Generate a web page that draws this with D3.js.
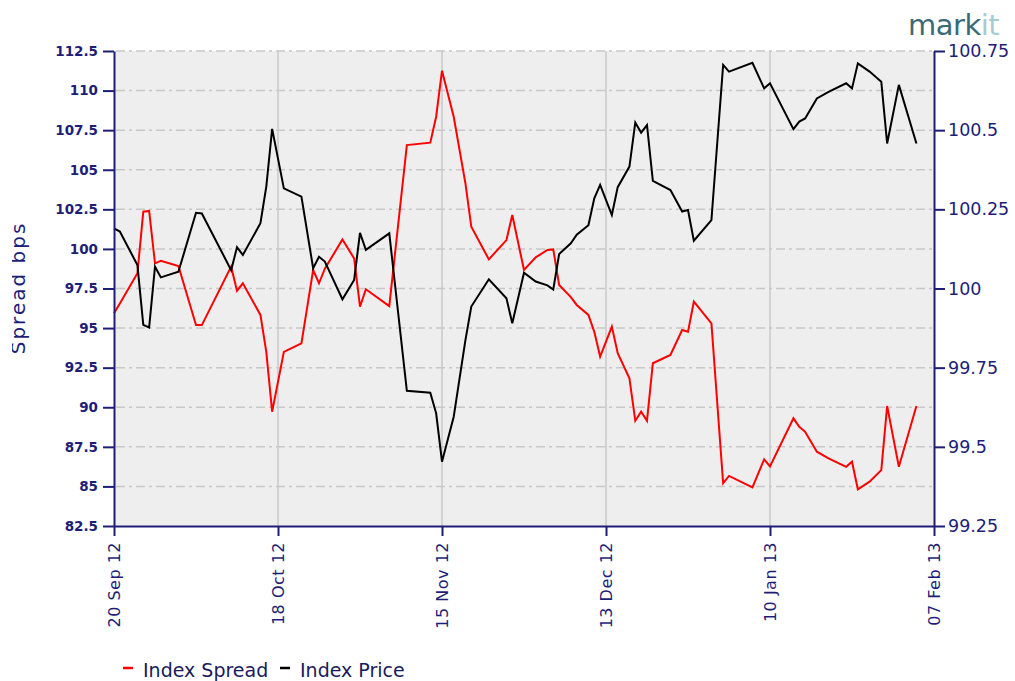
<!DOCTYPE html>
<html>
<head>
<meta charset="utf-8">
<script src="https://cdn.jsdelivr.net/npm/d3@7"></script>
<style>
  body { margin: 0; background: #fff; }
  svg { display: block; font-family: "DejaVu Sans", sans-serif; }
</style>
</head>
<body>
<div id="chart"></div>
<script>
// data
const dates = [
  '2012-09-20', '2012-09-21', '2012-09-24', '2012-09-25', '2012-09-26', '2012-09-27', '2012-09-28',
  '2012-10-01', '2012-10-04', '2012-10-05', '2012-10-10', '2012-10-11', '2012-10-12', '2012-10-15',
  '2012-10-16', '2012-10-17', '2012-10-19', '2012-10-22', '2012-10-24', '2012-10-25', '2012-10-26',
  '2012-10-29', '2012-10-31', '2012-11-01', '2012-11-02', '2012-11-06', '2012-11-09', '2012-11-13',
  '2012-11-14', '2012-11-15', '2012-11-17', '2012-11-19', '2012-11-20', '2012-11-23', '2012-11-26',
  '2012-11-27', '2012-11-29', '2012-12-01', '2012-12-03', '2012-12-04', '2012-12-05', '2012-12-07',
  '2012-12-08', '2012-12-10', '2012-12-11', '2012-12-12', '2012-12-14', '2012-12-15', '2012-12-17',
  '2012-12-18', '2012-12-19', '2012-12-20', '2012-12-21', '2012-12-24', '2012-12-26', '2012-12-27',
  '2012-12-28', '2012-12-31', '2013-01-02', '2013-01-03', '2013-01-07', '2013-01-09', '2013-01-10',
  '2013-01-14', '2013-01-15', '2013-01-16', '2013-01-18', '2013-01-20', '2013-01-23', '2013-01-24',
  '2013-01-25', '2013-01-27', '2013-01-29', '2013-01-30', '2013-02-01', '2013-02-04'
];
const spread = [
  95.93, 96.55, 98.46, 102.35, 102.4, 99.09, 99.25,
  98.92, 95.19, 95.19, 98.88, 97.36, 97.83, 95.83,
  93.5, 89.72, 93.5, 94.04, 98.67, 97.83, 98.75,
  100.6, 99.4, 96.35, 97.45, 96.39, 106.56, 106.71,
  108.35, 111.26, 108.35, 104.14, 101.4, 99.34, 100.56,
  102.14, 98.67, 99.47, 99.93, 99.97, 97.72, 96.96,
  96.46, 95.83, 94.76, 93.2, 95.09, 93.41, 91.83,
  89.15, 89.72, 89.15, 92.78, 93.3, 94.88, 94.77,
  96.67, 95.3, 85.2, 85.66, 84.94, 86.71, 86.26,
  89.3, 88.77, 88.45, 87.19, 86.77, 86.24, 86.56,
  84.82, 85.3, 86.03, 90.08, 86.24, 90.08
];
const price = [
  100.19, 100.18, 100.074, 99.885, 99.877, 100.069, 100.035,
  100.053, 100.239, 100.237, 100.058, 100.13, 100.106, 100.206,
  100.322, 100.504, 100.316, 100.29, 100.064, 100.1, 100.085,
  99.966, 100.027, 100.176, 100.122, 100.174, 99.677, 99.671,
  99.606, 99.453, 99.595, 99.837, 99.943, 100.029, 99.969,
  99.89, 100.05, 100.022, 100.01, 99.997, 100.109, 100.143,
  100.17, 100.2, 100.285, 100.327, 100.232, 100.32, 100.385,
  100.524, 100.492, 100.516, 100.34, 100.311, 100.243, 100.248,
  100.151, 100.216, 100.706, 100.685, 100.713, 100.632, 100.648,
  100.503, 100.527, 100.537, 100.6, 100.621, 100.648, 100.632,
  100.711, 100.685, 100.653, 100.458, 100.643, 100.458
];
const xTickDates = ['2012-09-20', '2012-10-18', '2012-11-15', '2012-12-13', '2013-01-10', '2013-02-07'];
const spreadTicks = [82.5, 85, 87.5, 90, 92.5, 95, 97.5, 100, 102.5, 105, 107.5, 110, 112.5];
const priceTicks = [99.25, 99.5, 99.75, 100, 100.25, 100.5, 100.75];

const parse = d3.timeParse('%Y-%m-%d');
const navy = '#1e1e78';
const width = 1015;
const height = 681;
const margin = { top: 51, right: 81, bottom: 155, left: 114 };
const plotW = width - margin.left - margin.right;
const plotH = height - margin.top - margin.bottom;

const svg = d3.select('#chart').append('svg')
  .attr('width', width)
  .attr('height', height);

// scales
const x = d3.scaleTime()
  .domain([parse(xTickDates[0]), parse(xTickDates[xTickDates.length - 1])])
  .range([0, plotW]);
const ySpread = d3.scaleLinear().domain([82.5, 112.5]).range([plotH, 0]);
const yPrice = d3.scaleLinear().domain([99.25, 100.75]).range([plotH, 0]);

const g = svg.append('g').attr('transform', `translate(${margin.left},${margin.top})`);

// plot background
g.append('rect')
  .attr('width', plotW)
  .attr('height', plotH)
  .attr('fill', '#eeeeee');

// horizontal dashed grid
g.append('g').selectAll('line')
  .data(spreadTicks.slice(1))
  .enter().append('line')
  .attr('x1', 2)
  .attr('x2', plotW)
  .attr('y1', (d) => ySpread(d))
  .attr('y2', (d) => ySpread(d))
  .attr('stroke', '#c8c8c8')
  .attr('stroke-width', 1.5)
  .attr('stroke-dasharray', '9,4,3,4');

// vertical grid at inner date ticks
g.append('g').selectAll('line')
  .data(xTickDates.slice(1, -1))
  .enter().append('line')
  .attr('x1', (d) => x(parse(d)))
  .attr('x2', (d) => x(parse(d)))
  .attr('y1', 0)
  .attr('y2', plotH)
  .attr('stroke', '#c8c8c8')
  .attr('stroke-width', 1.5);

// series lines
const rows = dates.map((d, i) => ({ date: parse(d), spread: spread[i], price: price[i] }));
g.append('path')
  .datum(rows)
  .attr('fill', 'none')
  .attr('stroke', '#ff0000')
  .attr('stroke-width', 2)
  .attr('d', d3.line().x((d) => x(d.date)).y((d) => ySpread(d.spread)));
g.append('path')
  .datum(rows)
  .attr('fill', 'none')
  .attr('stroke', '#000000')
  .attr('stroke-width', 2)
  .attr('d', d3.line().x((d) => x(d.date)).y((d) => yPrice(d.price)));

// axes
const leftAxis = d3.axisLeft(ySpread)
  .tickValues(spreadTicks)
  .tickFormat((d) => String(d))
  .tickSize(11)
  .tickSizeOuter(0)
  .tickPadding(5);
const rightAxis = d3.axisRight(yPrice)
  .tickValues(priceTicks)
  .tickFormat((d) => String(d))
  .tickSize(11)
  .tickSizeOuter(0)
  .tickPadding(3);
const bottomAxis = d3.axisBottom(x)
  .tickValues(xTickDates.map(parse))
  .tickFormat(d3.timeFormat('%d %b %y'))
  .tickSize(10)
  .tickSizeOuter(0);

const gl = g.append('g').call(leftAxis);
gl.selectAll('text').attr('font-size', 13.5).attr('font-weight', 'bold').attr('fill', navy);

const gr = g.append('g').attr('transform', `translate(${plotW},0)`).call(rightAxis);
gr.selectAll('text').attr('font-size', 17.5).attr('fill', navy);

const gb = g.append('g').attr('transform', `translate(0,${plotH})`).call(bottomAxis);
gb.selectAll('text')
  .attr('font-size', 16)
  .attr('letter-spacing', 0.5)
  .attr('fill', navy)
  .attr('text-anchor', 'end')
  .attr('transform', 'rotate(-90)')
  .attr('x', -16)
  .attr('y', 0)
  .attr('dy', '0.35em');

[gl, gr, gb].forEach((a) => {
  a.attr('font-family', '"DejaVu Sans", sans-serif');
  a.selectAll('.domain').attr('stroke', navy).attr('stroke-width', 2);
  a.selectAll('.tick line').attr('stroke', navy).attr('stroke-width', 2);
});

// y axis title, clipped on the left like the original
svg.append('clipPath').attr('id', 'titleClip')
  .append('rect').attr('x', 12).attr('y', 0).attr('width', 60).attr('height', height);
svg.append('g')
  .attr('clip-path', 'url(#titleClip)')
  .append('text')
  .attr('transform', 'translate(25,288) rotate(-90)')
  .attr('text-anchor', 'middle')
  .attr('font-size', 20)
  .attr('letter-spacing', 2)
  .attr('fill', navy)
  .text('Spread bps');

// legend
const legend = [
  { label: 'Index Spread', color: '#ff0000', x: 123 },
  { label: 'Index Price', color: '#000000', x: 280 },
];
const lg = svg.append('g').attr('transform', 'translate(0,668)');
lg.selectAll('line')
  .data(legend)
  .enter().append('line')
  .attr('x1', (d) => d.x)
  .attr('x2', (d) => d.x + 10)
  .attr('stroke', (d) => d.color)
  .attr('stroke-width', 2.5);
lg.selectAll('text')
  .data(legend)
  .enter().append('text')
  .attr('x', (d) => d.x + 20)
  .attr('y', 9)
  .attr('font-size', 19)
  .attr('fill', '#1a1a5a')
  .text((d) => d.label);

// markit logo
const logo = svg.append('text')
  .attr('x', 908)
  .attr('y', 35)
  .attr('font-size', 29)
  .attr('letter-spacing', -0.5);
logo.append('tspan').attr('fill', '#3b6a74').text('mark');
logo.append('tspan').attr('fill', '#a6ccd2').text('it');
</script>
</body>
</html>
